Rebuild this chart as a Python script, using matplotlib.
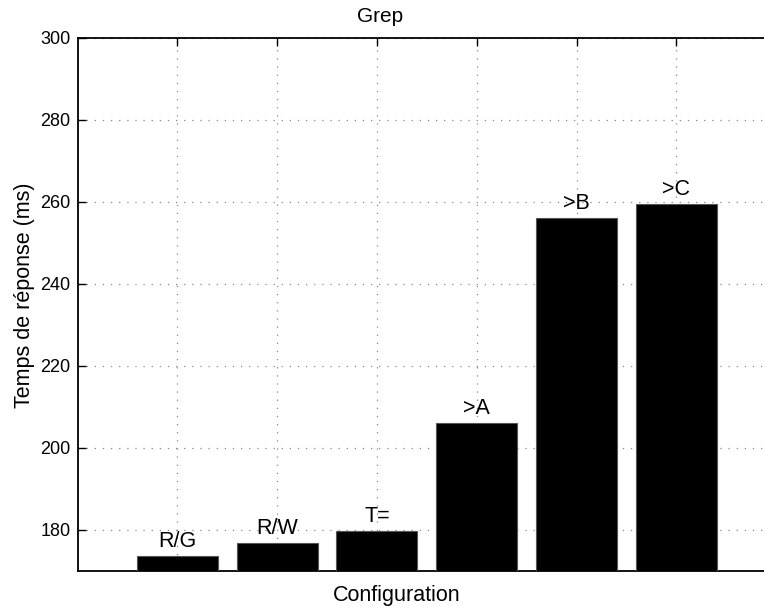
import matplotlib
matplotlib.use("Agg")
import matplotlib.pyplot as plt

configs = ["R/G", "R/W", "T=", ">A", ">B", ">C"]
response_ms = [173.6, 176.9, 179.8, 206.2, 256.2, 259.6]
yticks = [180, 200, 220, 240, 260, 280, 300]

plt.rcParams["font.family"] = ["Liberation Sans", "DejaVu Sans"]

W, H = 764, 610
fig = plt.figure(figsize=(W / 100, H / 100), dpi=100)
left_px, top_px, bottom_px, unit_px = 77.5, 38, 571, 99.8
ax = fig.add_axes([left_px / W, 1 - bottom_px / H, 7 * unit_px / W, (bottom_px - top_px) / H])

xs = list(range(1, len(configs) + 1))
ax.bar(xs, response_ms, width=0.81, color="black", edgecolor="#555555", linewidth=0.8, zorder=3)
for x, v, lab in zip(xs, response_ms, configs):
    ax.annotate(lab, (x, v), xytext=(0, 6.5), textcoords="offset points",
                ha="center", va="baseline", fontsize=15.5, zorder=4)

ax.set_xlim(0, 7)
ax.set_ylim(170, 300)
ax.set_xticks(xs)
ax.set_xticklabels([])
ax.set_yticks(yticks)
ax.tick_params(direction="in", length=6, width=1, labelsize=13, top=True, right=True, pad=5)
ax.grid(True, linestyle=(0, (1, 5.5)), color="#888888", linewidth=0.9, zorder=0)
for s in ax.spines.values():
    s.set_linewidth(1.3)

fig.text(380 / W, 1 - 17 / H, "Grep", fontsize=15, ha="center", va="center")
fig.text(397 / W, 1 - 595 / H, "Configuration", fontsize=15.5, ha="center", va="center")
fig.text(25 / W, 1 - 295 / H, "Temps de réponse (ms)", fontsize=15.5,
         ha="center", va="center", rotation=90)

fig.savefig("out.png", dpi=100)
